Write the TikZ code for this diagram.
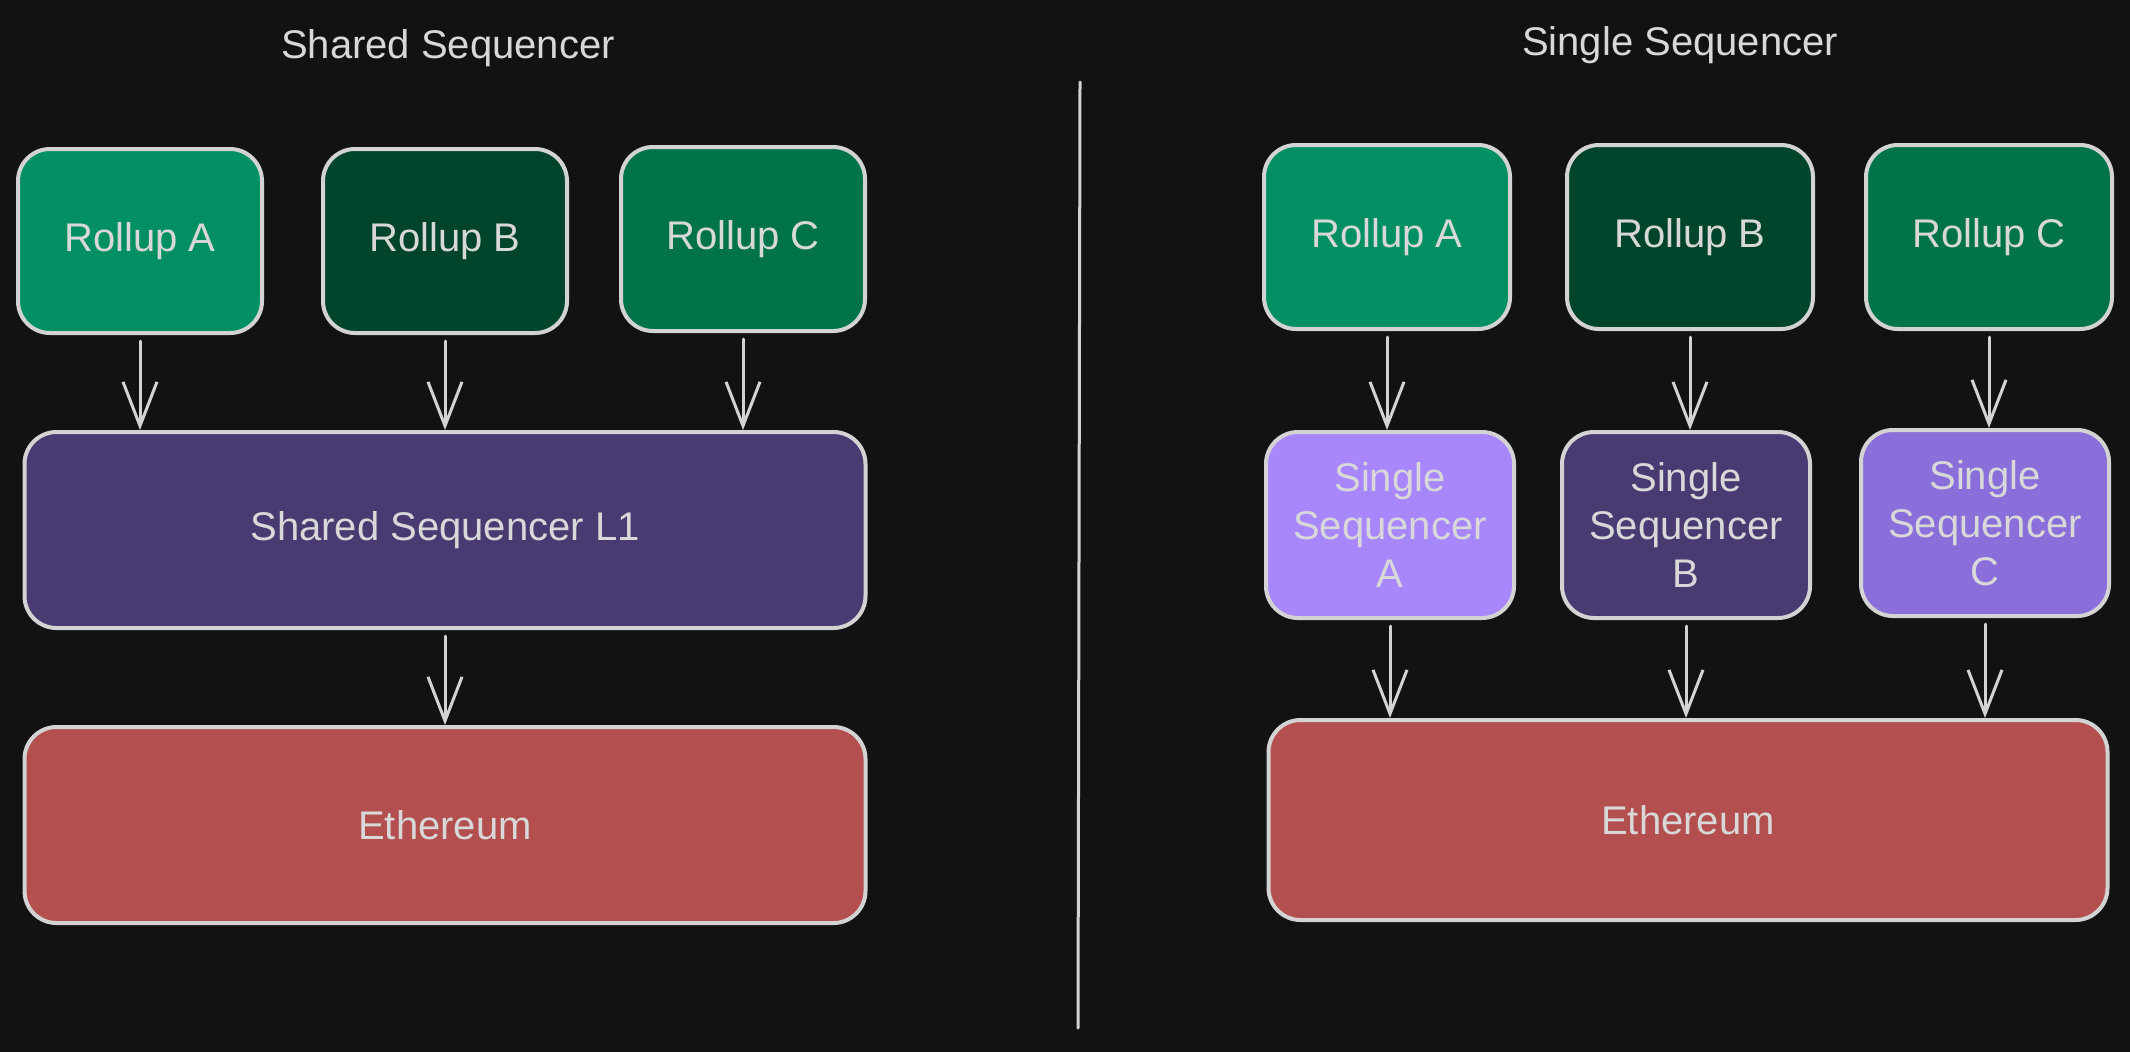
\documentclass[tikz,border=0pt]{standalone}
\usepackage{fontspec}
\setmainfont{Liberation Sans}
\usepackage{xcolor}
\usetikzlibrary{arrows.meta, positioning}

\definecolor{bg}{HTML}{121212}
\definecolor{edge}{HTML}{D3D3D3}
\definecolor{ink}{HTML}{D8D8D8}
\definecolor{greenA}{HTML}{038F64}
\definecolor{greenB}{HTML}{01442C}
\definecolor{greenC}{HTML}{007448}
\definecolor{purpleDark}{HTML}{493A72}
\definecolor{purpleLight}{HTML}{A886FC}
\definecolor{purpleMid}{HTML}{8A6FDB}
\definecolor{ethred}{HTML}{B34F4F}

\begin{document}
\begin{tikzpicture}[
    x=0.5pt, y=-0.5pt,
    box/.style={rectangle, rounded corners=16pt, draw=edge, line width=2pt, text=ink, minimum width=122pt, minimum height=92pt, align=center, font=\fontsize{20}{24}\selectfont},
    layer/.style={box, minimum width=420pt, minimum height=98pt},
    arrow/.style={-{Straight Barb[length=22pt,width=17pt]}, line width=1.5pt, draw=edge, line cap=round, line join=round, shorten <=3pt},
    title/.style={text=ink, font=\fontsize{20}{24}\selectfont}
]

% Background
\useasboundingbox (0,0) rectangle (2130,1051);
\fill[bg] (-10,-10) rectangle (2140,1061);

% Titles
\node[title] (tshared) at (448,48) {Shared Sequencer};
\node[title] (tsingle) at (1680,45) {Single Sequencer};

% Divider
\draw[edge, line width=1.5pt, line cap=round] (1080,82) -- (1078,1028);

% Shared sequencer side
\node[box, fill=greenA] (rollA) at (140,241) {Rollup A};
\node[box, fill=greenB] (rollB) at (445,241) {Rollup B};
\node[box, fill=greenC] (rollC) at (743,239) {Rollup C};
\node[layer, fill=purpleDark, minimum width=420.5pt] (shared) at (445,530) {Shared Sequencer L1};
\node[layer, fill=ethred, minimum width=420.5pt] (ethL) at (445,825) {Ethereum};

% Single sequencer side
\node[box, fill=greenA, minimum width=123pt] (rollA2) at (1387,237) {Rollup A};
\node[box, fill=greenB, minimum width=123pt] (rollB2) at (1690,237) {Rollup B};
\node[box, fill=greenC, minimum width=123pt] (rollC2) at (1989,237) {Rollup C};
\node[box, fill=purpleLight, minimum width=124pt, minimum height=93pt] (seqA) at (1390,525) {Single\\Sequencer\\A};
\node[box, fill=purpleDark, minimum width=124pt, minimum height=93pt] (seqB) at (1686,525) {Single\\Sequencer\\B};
\node[box, fill=purpleMid, minimum width=124pt, minimum height=93pt] (seqC) at (1985,523) {Single\\Sequencer\\C};
\node[layer, fill=ethred, minimum width=419.5pt, minimum height=100pt] (ethR) at (1688,820) {Ethereum};

% Arrows, shared side
\draw[arrow] (rollA.south) -- (rollA.south |- shared.north);
\draw[arrow] (rollB.south) -- (rollB.south |- shared.north);
\draw[arrow] (rollC.south) -- (rollC.south |- shared.north);
\draw[arrow] (shared.south) -- (ethL.north);

% Arrows, single side
\draw[arrow] (rollA2.south) -- (rollA2.south |- seqA.north);
\draw[arrow] (rollB2.south) -- (rollB2.south |- seqB.north);
\draw[arrow] (rollC2.south) -- (rollC2.south |- seqC.north);
\draw[arrow] (seqA.south) -- (seqA.south |- ethR.north);
\draw[arrow] (seqB.south) -- (seqB.south |- ethR.north);
\draw[arrow] (seqC.south) -- (seqC.south |- ethR.north);

\end{tikzpicture}
\end{document}
